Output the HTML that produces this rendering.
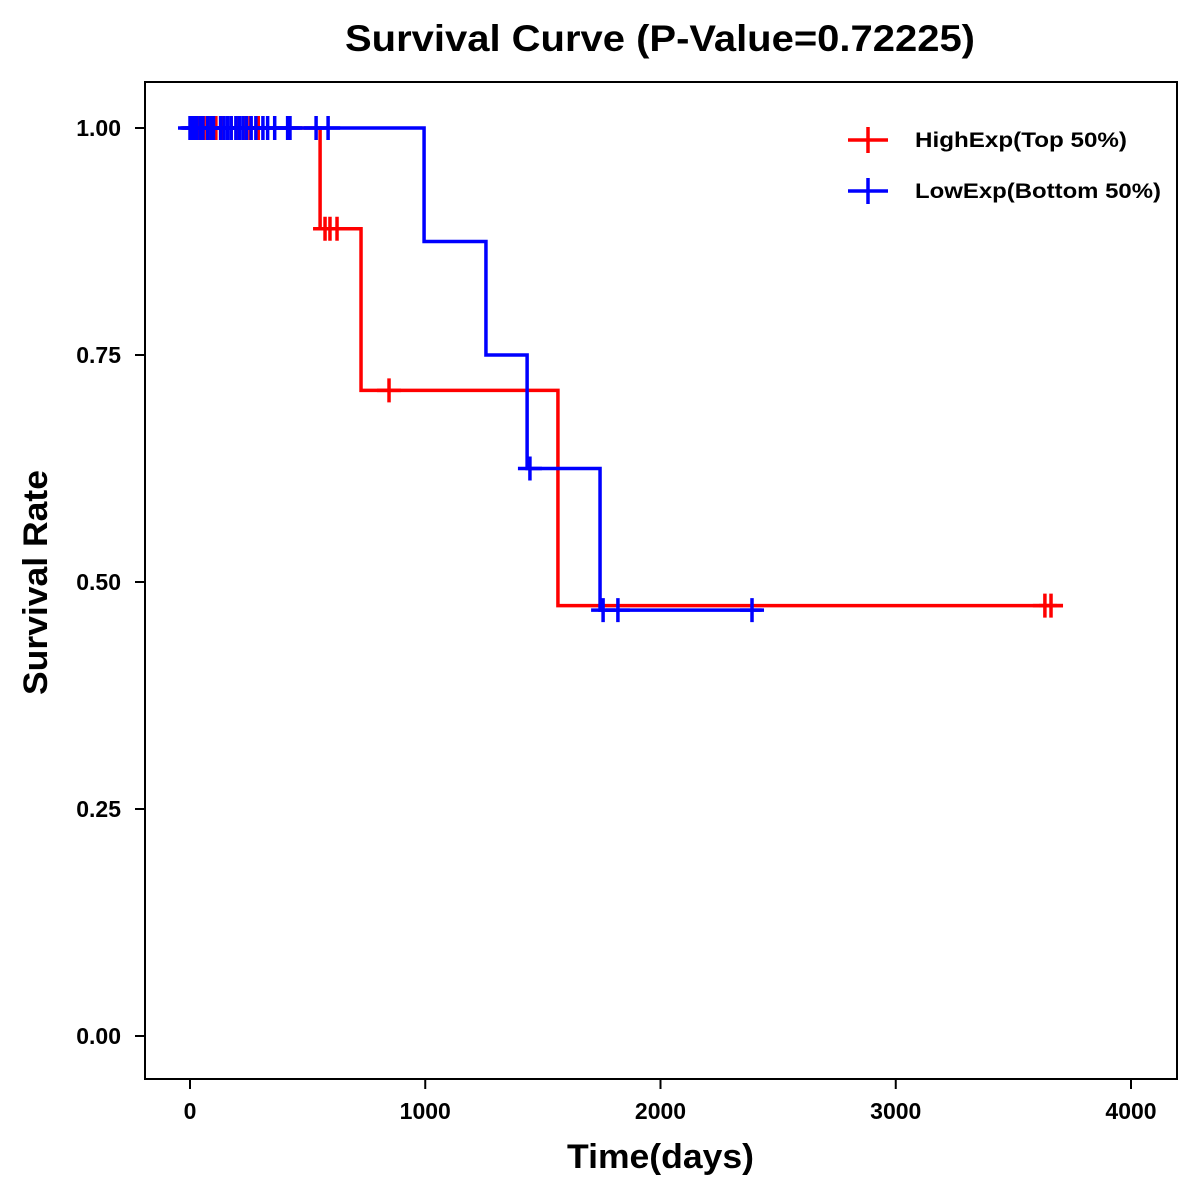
<!DOCTYPE html>
<html><head><meta charset="utf-8"><style>
body{margin:0;background:#fff;}
svg{display:block;font-family:"Liberation Sans",Arial,sans-serif;}
</style></head><body>
<svg id="chart" width="1200" height="1200">
<rect width="1200" height="1200" fill="#fff"/>
<text x="345" y="51" textLength="630" lengthAdjust="spacingAndGlyphs" font-size="37" font-weight="bold">Survival Curve (P-Value=0.72225)</text>
<rect x="145" y="82" width="1032" height="997" fill="none" stroke="#000" stroke-width="2"/>
<g id="axes"></g>
<g id="series"></g>
<text x="567" y="1168" textLength="187" lengthAdjust="spacingAndGlyphs" font-size="34" font-weight="bold">Time(days)</text>
<text transform="translate(47,695) rotate(-90)" textLength="225" lengthAdjust="spacingAndGlyphs" font-size="34" font-weight="bold">Survival Rate</text>
<g>
<g>
<line x1="848" y1="140" x2="888" y2="140" stroke="#f00" stroke-width="3.5"/><line x1="868" y1="127" x2="868" y2="153" stroke="#f00" stroke-width="3.5"/>
<text x="915" y="147" textLength="212" lengthAdjust="spacingAndGlyphs" font-size="21" font-weight="bold">HighExp(Top 50%)</text></g>
<g>
<line x1="848" y1="191" x2="888" y2="191" stroke="#00f" stroke-width="3.5"/><line x1="868" y1="178" x2="868" y2="204" stroke="#00f" stroke-width="3.5"/>
<text x="915" y="198" textLength="246" lengthAdjust="spacingAndGlyphs" font-size="21" font-weight="bold">LowExp(Bottom 50%)</text></g>
</g>
</svg>
<script>
const xTicks=[0,1000,2000,3000,4000];
const yTicks=[0,0.25,0.5,0.75,1.0];
const yTickLabels=["0.00","0.25","0.50","0.75","1.00"];
const highTimes=[0,553,727,1564,3711];
const highSurv=[1,0.889,0.711,0.474,0.474];
const highCensor=[15,40,60,85,110,140,175,200,230,255,290,574,595,625,846,3634,3660];
const lowTimes=[0,995,1258,1433,1743,2430];
const lowSurv=[1,0.875,0.75,0.625,0.469,0.469];
const lowCensor=[0,10,20,30,45,55,75,90,100,130,145,160,175,195,210,225,240,260,280,310,330,360,415,425,536,587,1445,1756,1819,2389];
const X=d=>190+d*0.23525, Y=v=>1036-v*908;
const NS="http://www.w3.org/2000/svg";
const ax=document.getElementById('axes'), se=document.getElementById('series');
function mk(tag,attrs,parent){const e=document.createElementNS(NS,tag);for(const k in attrs)e.setAttribute(k,attrs[k]);parent.appendChild(e);return e;}
xTicks.forEach(t=>{
 const l=mk('line',{x1:X(t),x2:X(t),y1:1079,y2:1089,stroke:'#000','stroke-width':2},ax);
 
 
 const tx=mk('text',{x:X(t),y:1119,'text-anchor':'middle','font-size':23,'font-weight':'bold'},ax);tx.textContent=t;
 
 
});
yTicks.forEach((t,i)=>{
 const l=mk('line',{x1:135,x2:145,y1:Y(t),y2:Y(t),stroke:'#000','stroke-width':2},ax);
 
 
 const tx=mk('text',{x:121,y:Y(t)+8,'text-anchor':'end','font-size':23,'font-weight':'bold'},ax);tx.textContent=yTickLabels[i];
 
 
});
function survAt(times,surv,t){let s=surv[0];for(let i=0;i<times.length;i++){if(times[i]<=t)s=surv[i];}return s;}
function drawSeries(times,surv,cens,color,name){
 const g=mk('g',{},se);
 
 
 let d='M'+X(times[0])+' '+Y(surv[0]);
 for(let i=1;i<times.length;i++){d+=' H'+X(times[i])+' V'+Y(surv[i]);}
 mk('path',{d:d,fill:'none',stroke:color,'stroke-width':3.5},g);
 cens.forEach(c=>{
  const s=survAt(times,surv,c);
  const p=mk('path',{d:'M'+(X(c)-12)+' '+Y(s)+' h24 M'+X(c)+' '+(Y(s)-12)+' v24',stroke:color,'stroke-width':3.5,fill:'none'},g);
  
  
 });
}
drawSeries(highTimes,highSurv,highCensor,'#f00','high-exp');
drawSeries(lowTimes,lowSurv,lowCensor,'#00f','low-exp');
</script>
</body></html>
